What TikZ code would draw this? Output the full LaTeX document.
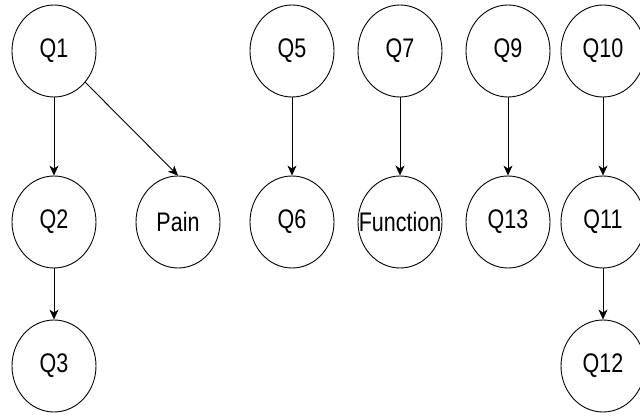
\documentclass[tikz,border=0pt]{standalone}
\usepackage{graphicx}
\usepackage{fontspec}
\setmainfont{Liberation Sans}
\usetikzlibrary{shapes.geometric,arrows.meta}
\begin{document}
\begin{tikzpicture}[x=1pt,y=-1pt,
  qnode/.style={ellipse,draw,line width=0.9pt,minimum width=84pt,minimum height=92pt,inner sep=0pt,
    label={[font=\fontsize{21.5}{25}\selectfont,inner sep=0pt]center:\scalebox{1}[1.25]{#1}}},
  link/.style={draw,line width=0.9pt,-{Stealth[length=10pt,width=9pt,inset=3pt]}}]
\useasboundingbox (0,0) rectangle (640,417);
\node[qnode=Q1] (q1) at (54,51) {};
\node[qnode=Q2] (q2) at (54,222) {};
\node[qnode=Q3] (q3) at (54,366) {};
\node[qnode=Pain] (pain) at (178,222) {};
\node[qnode=Q5] (q5) at (292,51) {};
\node[qnode=Q6] (q6) at (292,222) {};
\node[qnode=Q7] (q7) at (400,51) {};
\node[qnode=Function] (fn) at (400,222) {};
\node[qnode=Q9] (q9) at (508,51) {};
\node[qnode=Q13] (q13) at (508,222) {};
\node[qnode=Q10] (q10) at (603,51) {};
\node[qnode=Q11] (q11) at (603,222) {};
\node[qnode=Q12] (q12) at (603,366) {};
\path[link] (q1) -- (q2);
\path[link] (q2) -- (q3);
\path[link] (q1.-45) -- (pain.north);
\path[link] (q5) -- (q6);
\path[link] (q7) -- (fn);
\path[link] (q9) -- (q13);
\path[link] (q10) -- (q11);
\path[link] (q11) -- (q12);
\end{tikzpicture}
\end{document}
